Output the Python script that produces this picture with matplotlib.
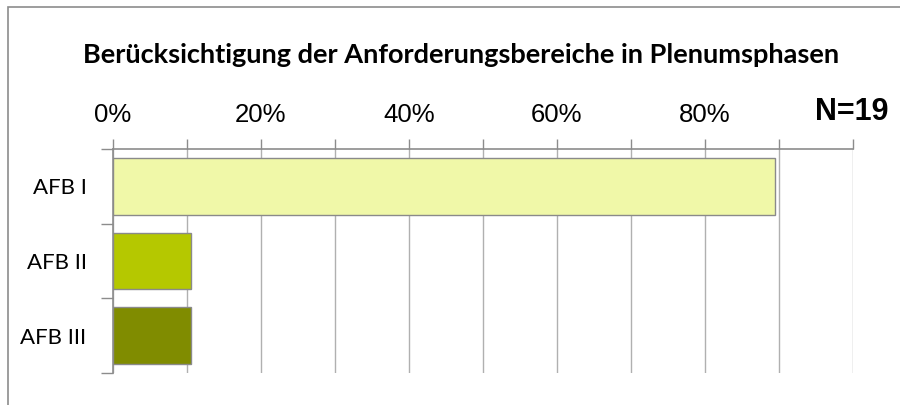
import matplotlib
matplotlib.use('Agg')
import matplotlib.pyplot as plt
from matplotlib.patches import Rectangle

# Daten
kategorien = ['AFB I', 'AFB II', 'AFB III']
anteile = [89.5, 10.5, 10.5]  # in Prozent (17/19, 2/19, 2/19)
farben = ['#F0F8A8', '#B5C800', '#808C00']
tick_werte = [0, 10, 20, 30, 40, 50, 60, 70, 80, 90, 100]
tick_texte = ['0%', '', '20%', '', '40%', '', '60%', '', '80%', '', '']
titel = 'Berücksichtigung der Anforderungsbereiche in Plenumsphasen'
n_text = 'N=19'

fig = plt.figure(figsize=(9, 4.05), dpi=100)

# Rahmen um das Diagramm
fig.patches.append(Rectangle((8 / 900, -0.02), 1.02, 1 - 7 / 405 + 0.02, transform=fig.transFigure,
                             fill=False, edgecolor='#8c8c8c', linewidth=1.2))

ax = fig.add_axes([113 / 900, 1 - 373 / 405, 740 / 900, 224 / 405])

y = list(range(len(kategorien)))
ax.barh(y, anteile, height=0.76, color=farben, edgecolor='#8a8a8a', linewidth=1, zorder=3)

ax.set_xlim(0, 100)
ax.set_ylim(len(kategorien) - 0.5, -0.5)

ax.xaxis.tick_top()
ax.set_xticks(tick_werte)
ax.set_xticklabels(tick_texte, fontsize=18.5, family='Liberation Sans')
ax.tick_params(axis='x', direction='out', length=7, width=1, color='#8c8c8c', pad=9)
ax.grid(axis='x', color='#b0b0b0', linewidth=1, zorder=0)

ax.set_yticks(y)
ax.set_yticklabels(kategorien, fontsize=16, family='Lato')
ax.set_yticks([-0.5, 0.5, 1.5, 2.5], minor=True)
ax.tick_params(axis='y', which='major', length=0, pad=19)
ax.tick_params(axis='y', which='minor', direction='out', length=9, width=1, color='#8c8c8c')

for s in ['bottom', 'right']:
    ax.spines[s].set_visible(False)
for s in ['top', 'left']:
    ax.spines[s].set_color('#8c8c8c')
    ax.spines[s].set_linewidth(1.2)

fig.text(461 / 900, 1 - 55 / 405, titel, ha='center', va='center', fontsize=19.5,
         fontweight='bold', family='Lato')
fig.text(852 / 900, 1 - 112 / 405, n_text, ha='center', va='center', fontsize=22,
         fontweight='bold', family='Liberation Sans')

fig.savefig('out.png', dpi=100)
